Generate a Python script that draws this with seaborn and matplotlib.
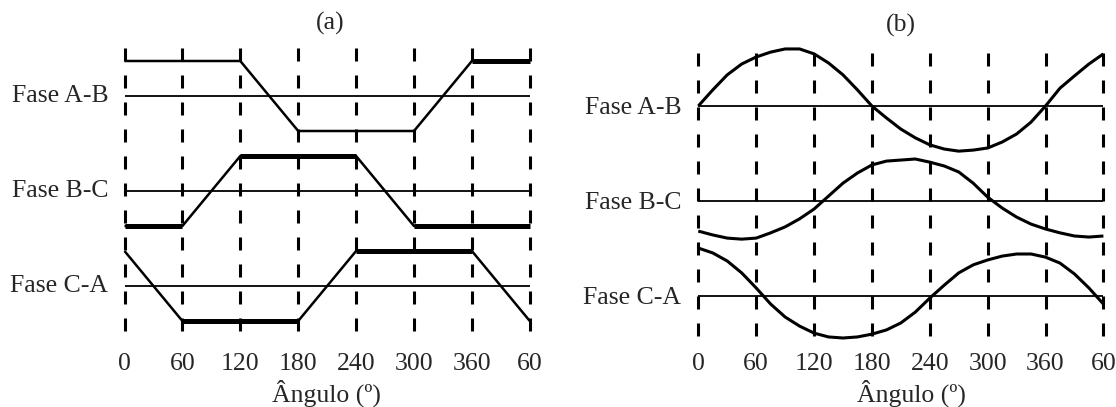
import matplotlib
matplotlib.use("Agg")
import matplotlib.pyplot as plt
import pandas as pd
import seaborn as sns

# Angle axis (one full cycle plus 60 degrees)
tick_angles = [0, 60, 120, 180, 240, 300, 360, 420]
tick_labels = ["0", "60", "120", "180", "240", "300", "360", "60"]
phases = ["Fase A-B", "Fase B-C", "Fase C-A"]

# (a) trapezoidal line voltages: corner angles and normalized levels
trap_angles = [0, 60, 120, 180, 240, 300, 360, 420]
trap_ab = [1, 1, 1, -1, -1, -1, 1, 1]
trap_bc = [-1, -1, 1, 1, 1, -1, -1, -1]
trap_ca = [1, -1, -1, -1, 1, 1, 1, -1]

# flat intervals drawn heavier in (a)
heavy_ab = [(360, 420)]
heavy_bc = [(0, 60), (120, 240), (300, 420)]
heavy_ca = [(60, 180), (240, 360)]

# (b) sinusoidal line voltages, sampled every 15 degrees
sine_angles = [0, 15, 30, 45, 60, 75, 90, 105, 120, 135, 150, 165, 180, 195,
               210, 225, 240, 255, 270, 285, 300, 315, 330, 345, 360, 375,
               390, 405, 420]
sine_ab = [0.00, 0.46, 0.89, 1.20, 1.40, 1.54, 1.63, 1.63, 1.49, 1.23, 0.89,
           0.46, 0.00, -0.34, -0.66, -0.91, -1.11, -1.23, -1.29, -1.26, -1.20,
           -1.03, -0.80, -0.46, 0.00, 0.51, 0.86, 1.20, 1.49]
sine_bc = [-0.86, -0.97, -1.06, -1.09, -1.06, -0.91, -0.74, -0.51, -0.23, 0.14,
           0.51, 0.80, 1.03, 1.14, 1.17, 1.20, 1.11, 1.00, 0.83, 0.51, 0.11,
           -0.20, -0.46, -0.66, -0.80, -0.91, -1.00, -1.03, -1.00]
sine_ca = [1.37, 1.23, 1.00, 0.66, 0.23, -0.23, -0.60, -0.86, -1.06, -1.17,
           -1.20, -1.17, -1.09, -0.97, -0.77, -0.46, -0.06, 0.31, 0.66, 0.89,
           1.03, 1.14, 1.20, 1.20, 1.11, 0.94, 0.63, 0.23, -0.23]

sns.set_style("white")
plt.rcParams["font.family"] = ["Liberation Serif", "DejaVu Serif"]
plt.rcParams["lines.solid_capstyle"] = "butt"
plt.rcParams["lines.solid_joinstyle"] = "round"

W, H = 1116, 407
fig = plt.figure(figsize=(W / 100, H / 100), dpi=100)

PX = 0.72          # one pixel in points
UNIT = 35.0        # pixels per unit level
STEP = 95.0 / UNIT # vertical distance between stacked phases
offsets = [0.0, -STEP, -2 * STEP]
FS = 18.5
DASH_LW = 2.2


def make_axes(x0, x1, zero_px, dash_top, dash_bot, top=40, bot=345):
    ax = fig.add_axes([x0 / W, 1 - bot / H, (x1 - x0) / W, (bot - top) / H])
    ax.set_xlim(0, 420)
    ax.set_ylim(-(bot - zero_px) / UNIT, (zero_px - top) / UNIT)
    # dashed angle grid, drawn from the top down
    for a in tick_angles:
        ax.plot([a, a], [(zero_px - dash_top) / UNIT, -(dash_bot - zero_px) / UNIT],
                color="black", lw=DASH_LW,
                linestyle=(0, (13 * PX / DASH_LW, 14 * PX / DASH_LW)),
                dash_capstyle="butt", zorder=1, clip_on=False)
    # zero reference lines
    ax.hlines(offsets, 0, 420, colors="black", lw=1.3, zorder=2)
    ax.set_xticks(tick_angles)
    ax.set_xticklabels(tick_labels, fontsize=FS)
    ax.tick_params(axis="x", length=0, pad=5.5)
    ax.set_yticks([])
    sns.despine(ax=ax, left=True, bottom=True)
    ax.patch.set_alpha(0)
    return ax


# ---------- (a) trapezoidal ----------
axa = make_axes(124.5, 529.8, 96, 48, 341)
for vals, heavy, off in zip([trap_ab, trap_bc, trap_ca],
                            [heavy_ab, heavy_bc, heavy_ca], offsets):
    df = pd.DataFrame({"angle": trap_angles, "level": [v + off for v in vals]})
    sns.lineplot(data=df, x="angle", y="level", ax=axa, color="black", lw=1.8,
                 estimator=None, sort=False, zorder=3, clip_on=False)
    for a0, a1 in heavy:
        seg = df[(df["angle"] >= a0) & (df["angle"] <= a1)]
        sns.lineplot(data=seg, x="angle", y="level", ax=axa, color="black",
                     lw=3.6, estimator=None, sort=False, zorder=4, clip_on=False)
for name, off in zip(phases, offsets):
    axa.annotate(name, xy=(0, off), xytext=(-16 * PX, 0), textcoords="offset points",
                 ha="right", va="center", fontsize=FS)
axa.set_xlabel("")
axa.set_ylabel("")

# ---------- (b) sinusoidal ----------
axb = make_axes(698.3, 1103.4, 106, 52.7, 343)
for vals, off in zip([sine_ab, sine_bc, sine_ca], offsets):
    df = pd.DataFrame({"angle": sine_angles, "level": [v + off for v in vals]})
    sns.lineplot(data=df, x="angle", y="level", ax=axb, color="black", lw=2.2,
                 estimator=None, sort=False, zorder=3, clip_on=False)
for name, off in zip(phases, offsets):
    axb.annotate(name, xy=(0, off), xytext=(-17 * PX, -2 * PX), textcoords="offset points",
                 ha="right", va="center", fontsize=FS)
axb.set_xlabel("")
axb.set_ylabel("")

# panel titles and axis captions
fig.text(330 / W, 1 - 23.3 / H, "(a)", ha="center", va="center", fontsize=FS)
fig.text(901 / W, 1 - 25 / H, "(b)", ha="center", va="center", fontsize=FS)
fig.text(326.6 / W, 1 - 401.5 / H, "Ângulo (º)", ha="center", va="baseline", fontsize=FS)
fig.text(911 / W, 1 - 401.5 / H, "Ângulo (º)", ha="center", va="baseline", fontsize=FS)

fig.savefig("out.png", dpi=100)
